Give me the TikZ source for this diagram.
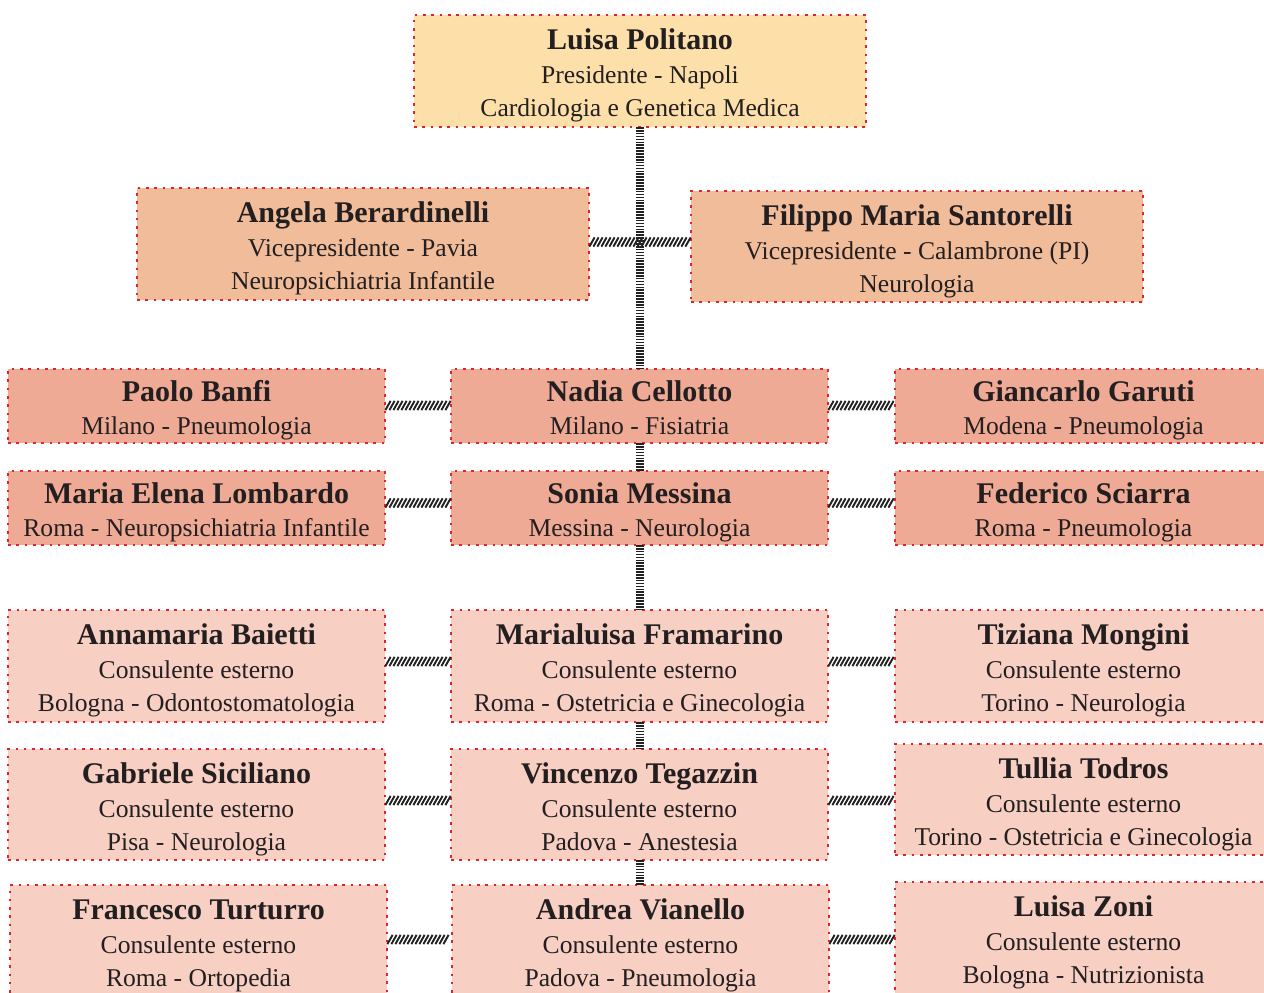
\documentclass[tikz,border=0pt]{standalone}
\usepackage{fontspec}
\setmainfont{Liberation Serif}
\usetikzlibrary{decorations.markings,calc}
\definecolor{cTop}{HTML}{FDDFA9}
\definecolor{cVice}{HTML}{F0BC9A}
\definecolor{cMem}{HTML}{EEAA95}
\definecolor{cCons}{HTML}{F7D0C3}
\definecolor{cDot}{HTML}{E1232D}
\definecolor{cTxt}{HTML}{231F20}
\definecolor{cLine}{HTML}{222222}
\tikzset{
  pbox/.style={draw=cDot, line width=2.6pt, dash pattern=on 2.6pt off 5.7pt, inner sep=0pt, outer sep=0pt},
  ptop/.style={pbox, fill=cTop},
  pvice/.style={pbox, fill=cVice},
  pmem/.style={pbox, fill=cMem},
  pcons/.style={pbox, fill=cCons},
  nm/.style={anchor=base, inner sep=0pt, text=cTxt, font=\fontsize{30}{36}\selectfont\bfseries},
  tx/.style={anchor=base, inner sep=0pt, text=cTxt, font=\fontsize{25.6}{30}\selectfont},
  vconn/.style={draw=cLine, line width=8pt, dash pattern=on 1.6pt off 1.3pt},
  hconn/.style={decorate, decoration={markings,
      mark=between positions 3pt and -3pt step 4pt with
        {\draw[cLine, line width=1.9pt] (-2.6pt,-4.6pt) -- (2.6pt,4.6pt);}}},
}
% #1 id, #2 style, #3 x1, #4 y1, #5 x2, #6 y2, #7 name, #8 line, #9 line
\newcommand\persiii[9]{%
  \node[#2, minimum width={#5-#3}, minimum height={#6-#4}] (#1) at ({(#3+#5)/2},{(#4+#6)/2}) {};
  \node[nm] (#1-a) at ([yshift=-34pt]#1.north) {#7};
  \node[tx] (#1-b) at ([yshift=-68pt]#1.north) {#8};
  \node[tx] (#1-c) at ([yshift=-101pt]#1.north) {#9};
}
\newcommand\persii[8]{%
  \node[#2, minimum width={#5-#3}, minimum height={#6-#4}] (#1) at ({(#3+#5)/2},{(#4+#6)/2}) {};
  \node[nm] (#1-a) at ([yshift=-32pt]#1.north) {#7};
  \node[tx] (#1-b) at ([yshift=-65pt]#1.north) {#8};
}
\begin{document}
\begin{tikzpicture}[x=1pt,y=-1pt]
\useasboundingbox (0,0) rectangle (1264,993);
\clip (0,0) rectangle (1264,993);
\fill[white] (0,0) rectangle (1264,993);

\persiii{top}{ptop}{414}{15}{866}{127}{Luisa Politano}{Presidente - Napoli}{Cardiologia e Genetica Medica}
\persiii{angela}{pvice}{137}{188}{589}{300}{Angela Berardinelli}{Vicepresidente - Pavia}{Neuropsichiatria Infantile}
\persiii{filippo}{pvice}{691}{191}{1143}{302}{Filippo Maria Santorelli}{Vicepresidente - Calambrone (PI)}{Neurologia}

\persii{banfi}{pmem}{8}{369}{385}{443}{Paolo Banfi}{Milano - Pneumologia}
\persii{nadia}{pmem}{451}{369}{828}{443}{Nadia Cellotto}{Milano - Fisiatria}
\persii{garuti}{pmem}{895}{369}{1272}{443}{Giancarlo Garuti}{Modena - Pneumologia}

\persii{lombardo}{pmem}{8}{471}{385}{545}{Maria Elena Lombardo}{Roma - Neuropsichiatria Infantile}
\persii{messina}{pmem}{451}{471}{828}{545}{Sonia Messina}{Messina - Neurologia}
\persii{sciarra}{pmem}{895}{471}{1272}{545}{Federico Sciarra}{Roma - Pneumologia}

\persiii{baietti}{pcons}{8}{610}{385}{722}{Annamaria Baietti}{Consulente esterno}{Bologna - Odontostomatologia}
\persiii{framarino}{pcons}{451}{610}{828}{722}{Marialuisa Framarino}{Consulente esterno}{Roma - Ostetricia e Ginecologia}
\persiii{mongini}{pcons}{895}{610}{1272}{722}{Tiziana Mongini}{Consulente esterno}{Torino - Neurologia}

\persiii{siciliano}{pcons}{8}{749}{385}{860}{Gabriele Siciliano}{Consulente esterno}{Pisa - Neurologia}
\persiii{tegazzin}{pcons}{451}{749}{828}{860}{Vincenzo Tegazzin}{Consulente esterno}{Padova - Anestesia}
\persiii{todros}{pcons}{895}{744}{1272}{855}{Tullia Todros}{Consulente esterno}{Torino - Ostetricia e Ginecologia}

\persiii{turturro}{pcons}{10}{885}{387}{997}{Francesco Turturro}{Consulente esterno}{Roma - Ortopedia}
\persiii{vianello}{pcons}{452}{885}{829}{997}{Andrea Vianello}{Consulente esterno}{Padova - Pneumologia}
\persiii{zoni}{pcons}{895}{882}{1272}{994}{Luisa Zoni}{Consulente esterno}{Bologna - Nutrizionista}

% vertical connectors
\draw[vconn] (top.south) -- (top.south |- nadia.north);
\draw[vconn] (nadia.south) -- (messina.north);
\draw[vconn] (messina.south) -- (framarino.north);
\draw[vconn] (framarino.south) -- (tegazzin.north);
\draw[vconn] (tegazzin.south) -- (tegazzin.south |- vianello.north);

% horizontal connectors
\path[hconn] (angela.east |- 0,242) -- (filippo.west |- 0,242);
\path[hconn] (banfi.east |- 0,405.5) -- (nadia.west |- 0,405.5);
\path[hconn] (nadia.east |- 0,405.5) -- (garuti.west |- 0,405.5);
\path[hconn] (lombardo.east |- 0,503) -- (messina.west |- 0,503);
\path[hconn] (messina.east |- 0,503) -- (sciarra.west |- 0,503);
\path[hconn] (baietti.east |- 0,661.5) -- (framarino.west |- 0,661.5);
\path[hconn] (framarino.east |- 0,661.5) -- (mongini.west |- 0,661.5);
\path[hconn] (siciliano.east |- 0,800.5) -- (tegazzin.west |- 0,800.5);
\path[hconn] (tegazzin.east |- 0,800.5) -- (todros.west |- 0,800.5);
\path[hconn] (turturro.east |- 0,939.5) -- (vianello.west |- 0,939.5);
\path[hconn] (vianello.east |- 0,939.5) -- (zoni.west |- 0,939.5);
\end{tikzpicture}
\end{document}
